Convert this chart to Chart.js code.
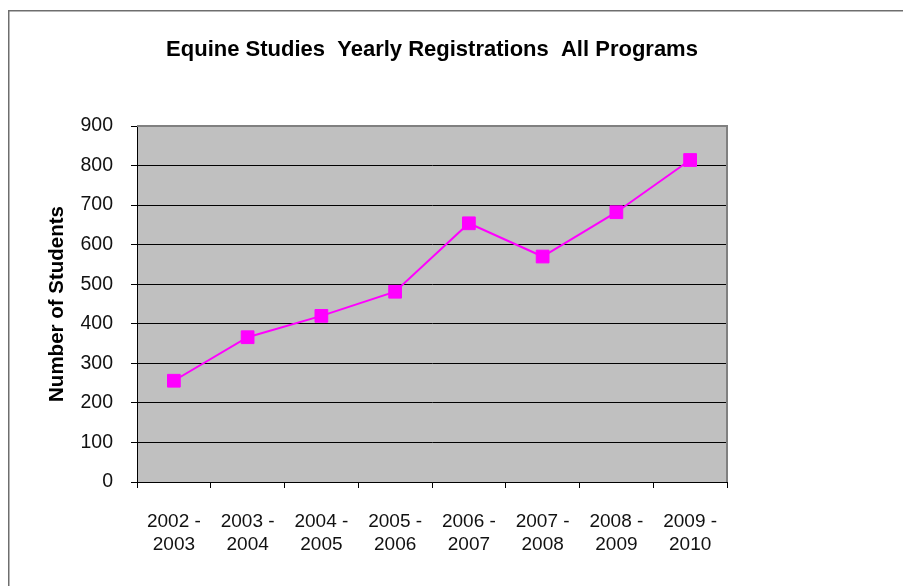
<!DOCTYPE html>
<html>
<head>
<meta charset="utf-8">
<script src="https://cdn.jsdelivr.net/npm/chart.js@4/dist/chart.umd.min.js"></script>
<style>
  html, body { margin: 0; padding: 0; background: #ffffff; }
  #wrap { width: 903px; height: 586px; position: relative; }
</style>
</head>
<body>
<div id="wrap"><canvas id="c" width="903" height="586"></canvas></div>
<script>
const chartTitle = 'Equine Studies  Yearly Registrations  All Programs';
const yAxisTitle = 'Number of Students';
const categories = [
  ['2002 -', '2003'], ['2003 -', '2004'], ['2004 -', '2005'], ['2005 -', '2006'],
  ['2006 -', '2007'], ['2007 -', '2008'], ['2008 -', '2009'], ['2009 -', '2010']
];
const registrations = [256, 366, 420, 481, 654, 570, 682, 814];
const yMin = 0, yMax = 900, yStep = 100;

const FONT = "'Liberation Sans', Arial, sans-serif";

const decor = {
  id: 'decor',
  beforeDraw(chart) {
    const { ctx, chartArea: a } = chart;
    ctx.save();
    ctx.fillStyle = '#ffffff';
    ctx.fillRect(0, 0, chart.width, chart.height);
    ctx.strokeStyle = '#6e6e6e';
    ctx.lineWidth = 1.5;
    ctx.strokeRect(8.75, 10.75, 1200, 1200);
    ctx.fillStyle = '#c0c0c0';
    ctx.fillRect(a.left, a.top, a.right - a.left, a.bottom - a.top);
    ctx.restore();
  },
  beforeDatasetsDraw(chart) {
    const { ctx, chartArea: a } = chart;
    ctx.save();
    ctx.strokeStyle = '#808080';
    ctx.lineWidth = 2;
    ctx.beginPath();
    ctx.moveTo(a.left, a.top);
    ctx.lineTo(a.right, a.top);
    ctx.lineTo(a.right, a.bottom);
    ctx.stroke();
    ctx.restore();
  }
};

new Chart(document.getElementById('c'), {
  type: 'line',
  data: {
    labels: categories,
    datasets: [{
      data: registrations,
      borderColor: '#ff00ff',
      backgroundColor: '#ff00ff',
      borderWidth: 2,
      pointStyle: 'rect',
      pointRadius: 9,
      pointBorderWidth: 1,
      pointBackgroundColor: '#ff00ff',
      pointBorderColor: '#ff00ff',
      tension: 0,
      fill: false
    }]
  },
  options: {
    responsive: false,
    animation: false,
    devicePixelRatio: 1,
    layout: { padding: { left: 40, right: 176, top: 0, bottom: 0 } },
    plugins: {
      legend: { display: false },
      tooltip: { enabled: false },
      title: {
        display: true,
        text: chartTitle,
        fullSize: false,
        color: '#000000',
        font: { family: FONT, size: 22, weight: 'bold' },
        padding: { top: 36.8, bottom: 62.8 }
      }
    },
    scales: {
      x: {
        offset: true,
        grid: { offset: true, drawOnChartArea: false, drawTicks: true, tickLength: 6, color: '#000000', lineWidth: 1 },
        border: { display: true, color: '#000000', width: 1 },
        ticks: { color: '#111111', font: { family: FONT, size: 19, lineHeight: 1.21 }, padding: 22, maxRotation: 0, autoSkip: false },
        afterFit(s) { s.height = 104; }
      },
      y: {
        min: yMin, max: yMax,
        grid: { color: '#000000', lineWidth: 1, drawTicks: true, tickLength: 6 },
        border: { display: true, color: '#000000', width: 1 },
        ticks: { stepSize: yStep, color: '#111111', font: { family: FONT, size: 19.5 }, padding: 18 },
        title: {
          display: true, text: yAxisTitle, color: '#000000',
          font: { family: FONT, size: 20.5, weight: 'bold' },
          padding: { top: 5, bottom: 0 }
        },
        afterFit(s) { s.width = 97; }
      }
    }
  },
  plugins: [decor]
});
</script>
</body>
</html>
